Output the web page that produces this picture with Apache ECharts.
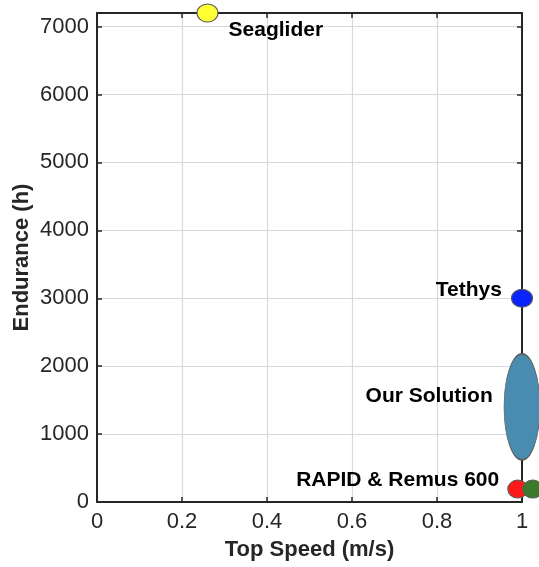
<!DOCTYPE html>
<html>
<head>
<meta charset="utf-8">
<script src="https://cdn.jsdelivr.net/npm/echarts@6/dist/echarts.min.js"></script>
<style>
  html, body { margin: 0; padding: 0; background: #fff; }
  #chart { width: 539px; height: 567px; }
</style>
</head>
<body>
<div id="chart"></div>
<script>
// data
var seaglider = [0.26, 7200];
var tethys = [1.0, 3000];
var ourSolution = [1.0, 1400];
var rapid = [0.99, 190];
var remus = [1.025, 190];

var font = '"Liberation Sans", Arial, Helvetica, sans-serif';
var axisColor = '#262626';
var ellipse = 'path://M0,50 A50,50 0 1,1 100,50 A50,50 0 1,1 0,50 Z';

var myChart = echarts.init(document.getElementById('chart'));

function point(name, value, color, size, labelPos, dist, offset) {
    return {
        name: name,
        type: 'scatter',
        clip: false,
        symbol: ellipse,
        symbolKeepAspect: false,
        symbolSize: size,
        itemStyle: { color: color, borderColor: '#5a5a5a', borderWidth: 1, opacity: 1 },
        label: {
            show: name !== '',
            formatter: name,
            position: labelPos,
            distance: dist,
            offset: offset,
            color: '#000',
            fontFamily: font,
            fontWeight: 'bold',
            fontSize: 21
        },
        data: [value]
    };
}

function valueAxis(extra) {
    return Object.assign({
        type: 'value',
        nameMoveOverlap: false,
        axisLine: { show: true, onZero: false, lineStyle: { color: axisColor, width: 2 } },
        axisTick: { show: true, inside: true, length: 5, lineStyle: { color: axisColor, width: 1.5 } }
    }, extra);
}

var option = {
    animation: false,
    grid: { left: 97, right: 17, top: 13, bottom: 65, outerBoundsMode: 'none', containLabel: false },
    xAxis: [
        valueAxis({
            min: 0, max: 1, interval: 0.2,
            name: 'Top Speed (m/s)',
            nameLocation: 'middle',
            nameGap: 37,
            nameTextStyle: { fontFamily: font, fontWeight: 'bold', fontSize: 22, color: axisColor },
            axisLabel: {
                margin: 9, color: axisColor, fontFamily: font, fontSize: 22,
                formatter: function (v) { return String(+v.toFixed(1)); }
            },
            splitLine: { show: true, lineStyle: { color: '#d9d9d9', width: 1.2 } }
        }),
        valueAxis({
            position: 'top', min: 0, max: 1, interval: 0.2,
            axisLabel: { show: false }, splitLine: { show: false }
        })
    ],
    yAxis: [
        valueAxis({
            min: 0, max: 7200, interval: 1000,
            name: 'Endurance (h)',
            nameLocation: 'middle',
            nameGap: 64,
            nameTextStyle: { fontFamily: font, fontWeight: 'bold', fontSize: 22, color: axisColor },
            axisLabel: {
                margin: 8, color: axisColor, fontFamily: font, fontSize: 22,
                showMaxLabel: false,
                formatter: function (v) { return String(v); }
            },
            splitLine: { show: true, lineStyle: { color: '#d9d9d9', width: 1.2 } }
        }),
        valueAxis({
            position: 'right', min: 0, max: 7200, interval: 1000,
            axisLabel: { show: false }, splitLine: { show: false }
        })
    ],
    series: [
        point('Seaglider', seaglider, '#ffff33', [21, 18], 'right', 10, [0, 17]),
        point('Tethys', tethys, '#0a24ff', [21, 18], 'left', 9, [0, -8]),
        point('Our Solution', ourSolution, '#4a8cb0', [36, 106], 'left', 11, [0, -11]),
        point('RAPID & Remus 600', rapid, '#ff1a1a', [20, 18], 'left', 8, [0, -9]),
        point('', remus, '#3b7a2a', [20, 18], 'left', 9, [0, 0])
    ]
};

myChart.setOption(option);
</script>
</body>
</html>
